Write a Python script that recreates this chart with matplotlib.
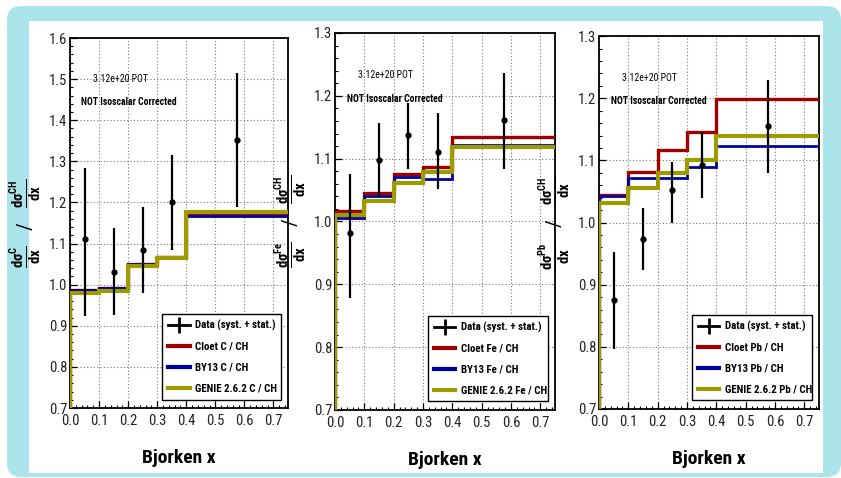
import matplotlib
matplotlib.use("Agg")
import matplotlib.pyplot as plt
from matplotlib.lines import Line2D
from matplotlib.patches import FancyBboxPatch, Rectangle
from matplotlib.ticker import MultipleLocator

plt.rcParams['font.family'] = ['Roboto Condensed', 'Liberation Sans', 'DejaVu Sans']
plt.rcParams['mathtext.fontset'] = 'custom'
plt.rcParams['mathtext.rm'] = 'Roboto Condensed'
plt.rcParams['mathtext.bf'] = 'Roboto Condensed:bold'
plt.rcParams['mathtext.default'] = 'bf'

# bins in Bjorken x
edges = [0.0, 0.1, 0.2, 0.3, 0.4, 0.75]
xc = [0.05, 0.15, 0.25, 0.35, 0.575]

# carbon / CH
c_data = [1.11, 1.032, 1.085, 1.20, 1.352]
c_up = [1.285, 1.139, 1.19, 1.315, 1.515]
c_lo = [0.925, 0.927, 0.98, 1.085, 1.19]
c_cloet = [0.988, 0.993, 1.051, 1.068, 1.170]
c_by13 = [0.987, 0.992, 1.050, 1.067, 1.168]
c_genie = [0.980, 0.985, 1.045, 1.066, 1.178]

# iron / CH
fe_data = [0.982, 1.098, 1.137, 1.111, 1.161]
fe_up = [1.075, 1.157, 1.188, 1.172, 1.237]
fe_lo = [0.879, 1.04, 1.083, 1.051, 1.083]
fe_cloet = [1.017, 1.045, 1.075, 1.086, 1.134]
fe_by13 = [1.006, 1.040, 1.070, 1.068, 1.122]
fe_genie = [1.011, 1.032, 1.062, 1.078, 1.118]

# lead / CH
pb_data = [0.876, 0.974, 1.052, 1.092, 1.155]
pb_up = [0.953, 1.024, 1.098, 1.145, 1.23]
pb_lo = [0.797, 0.924, 1.0, 1.039, 1.08]
pb_cloet = [1.045, 1.081, 1.116, 1.145, 1.199]
pb_by13 = [1.042, 1.071, 1.072, 1.089, 1.124]
pb_genie = [1.032, 1.056, 1.080, 1.100, 1.140]

red = '#a00000'
blue = '#0000a0'
olive = '#9c9c00'

W, H = 841, 478
fig = plt.figure(figsize=(W / 100, H / 100), dpi=100)
fig.patch.set_facecolor('white')

# cyan frame with white inner area
bg = fig.add_axes([0, 0, 1, 1])
bg.set_xlim(0, W)
bg.set_ylim(H, 0)
bg.axis('off')
bg.add_patch(FancyBboxPatch((7, 6), W - 7, H - 7, boxstyle='round,pad=0,rounding_size=14',
                            fc='#abe5eb', ec='none'))
bg.add_patch(Rectangle((29, 21), 823 - 29, 473 - 21, fc='white', ec='none'))

panels = [
    dict(rect=[70 / W, 0.1464, 218 / W, 0.774], ylim=(0.7, 1.6), nuc='C',
         data=c_data, up=c_up, lo=c_lo, cloet=c_cloet, by13=c_by13, genie=c_genie),
    dict(rect=[335 / W, 0.1423, 220 / W, 0.7887], ylim=(0.7, 1.3), nuc='Fe',
         data=fe_data, up=fe_up, lo=fe_lo, cloet=fe_cloet, by13=fe_by13, genie=fe_genie),
    dict(rect=[599 / W, 0.1444, 220 / W, 0.780], ylim=(0.7, 1.3), nuc='Pb',
         data=pb_data, up=pb_up, lo=pb_lo, cloet=pb_cloet, by13=pb_by13, genie=pb_genie),
]

for p in panels:
    ax = fig.add_axes(p['rect'])
    ax.set_xlim(0, 0.75)
    ax.set_ylim(*p['ylim'])

    for vals, col, lw in [(p['cloet'], red, 2.4), (p['by13'], blue, 2.0), (p['genie'], olive, 3.0)]:
        ax.stairs(vals, edges, baseline=None, color=col, lw=lw, zorder=3)
        ax.vlines(edges[0], p['ylim'][0], vals[0], color=col, lw=lw, zorder=3)

    yerr = [[d - l for d, l in zip(p['data'], p['lo'])], [u - d for u, d in zip(p['up'], p['data'])]]
    ax.errorbar(xc, p['data'], yerr=yerr, fmt='o', color='black', ms=3.5, elinewidth=1.6,
                capsize=0, zorder=4)

    ax.xaxis.set_major_locator(MultipleLocator(0.1))
    ax.xaxis.set_minor_locator(MultipleLocator(0.02))
    ax.yaxis.set_major_locator(MultipleLocator(0.1))
    ax.yaxis.set_minor_locator(MultipleLocator(0.02))
    ax.xaxis.set_major_formatter(lambda v, pos: f'{v:.1f}')
    ax.yaxis.set_major_formatter(lambda v, pos: f'{v:.1f}')
    ax.tick_params(which='major', direction='in', length=5, width=0.9, labelsize=10.5,
                   labelcolor='#222222', pad=2)
    ax.tick_params(axis='x', which='major', pad=4)
    ax.tick_params(which='minor', direction='in', length=2.5, width=0.8)
    ax.grid(True, which='major', color='#777777', ls=(0, (1, 2)), lw=0.8)
    for s in ax.spines.values():
        s.set_linewidth(1.3)

    ax.text(0.23, 0.888, '3.12e+20 POT', transform=ax.transAxes, ha='center', va='center',
            fontsize=7, zorder=5)
    ax.text(0.27, 0.826, 'NOT Isoscalar Corrected', transform=ax.transAxes, ha='center',
            va='center', fontsize=7, fontweight='bold', zorder=5)

    nuc = p['nuc']
    ax.set_ylabel(r'$\frac{d\sigma^{%s}}{dx}$   /   $\frac{d\sigma^{CH}}{dx}$' % nuc, fontsize=15)
    ax.yaxis.set_label_coords(-0.12, 0.5)
    ax.set_xlabel('Bjorken x', fontsize=14, fontweight='bold')
    ax.xaxis.set_label_coords(0.5, -0.11)

    data_h = (Line2D([], [], color='black', lw=2),
              Line2D([], [], color='black', marker='|', ms=11, mew=2, ls='none'))
    handles = [data_h,
               Line2D([], [], color=red, lw=3),
               Line2D([], [], color=blue, lw=3),
               Line2D([], [], color=olive, lw=3)]
    labels = ['Data (syst. + stat.)', f'Cloet {nuc} / CH', f'BY13 {nuc} / CH',
              f'GENIE 2.6.2 {nuc} / CH']
    leg = ax.legend(handles, labels, loc='lower left', bbox_to_anchor=(0.422, 0.023, 0.546, 0.257),
                    mode='expand', borderaxespad=0, fancybox=False, edgecolor='black',
                    framealpha=1, prop={'size': 7.8, 'weight': 'bold'}, handlelength=2.0,
                    labelspacing=1.0, borderpad=0.55, handletextpad=0.5)
    leg.get_frame().set_linewidth(1.0)
    leg.set_zorder(6)

fig.savefig('out.png', dpi=100)
